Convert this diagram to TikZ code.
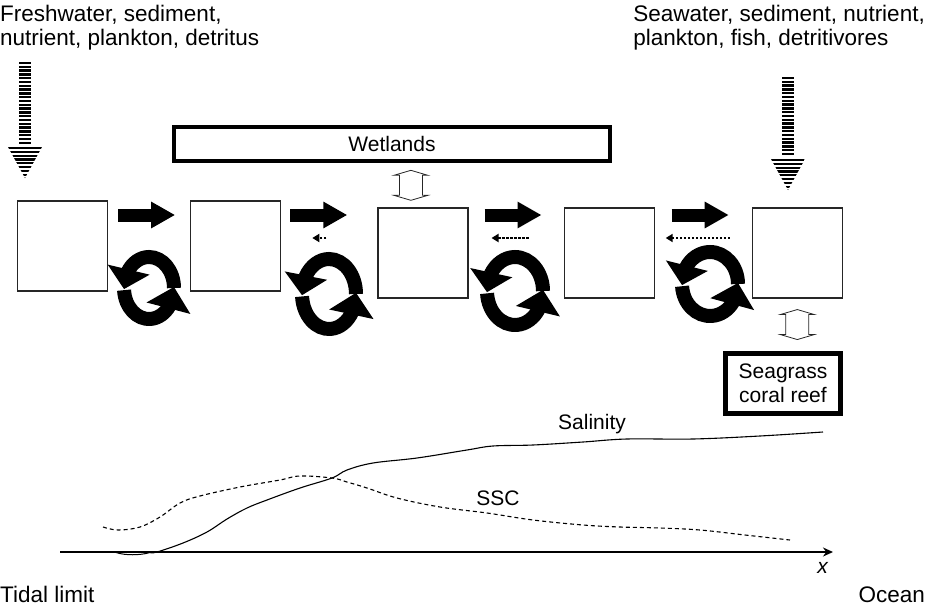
\documentclass[tikz,border=0pt]{standalone}
\usepackage{fontspec}
\setmainfont{Liberation Sans}
\usetikzlibrary{arrows.meta,bending,positioning,calc}
\tikzstyle{cell}=[rectangle,draw=black!85,line width=1.2pt,minimum width=90pt,minimum height=90pt,inner sep=0pt]
\tikzstyle{bigbox}=[rectangle,draw=black,line width=4.5pt,inner sep=0pt,align=center]
\tikzstyle{flow}=[line width=13pt,-{Triangle[width=25pt,length=24pt]}]
\tikzstyle{backflow}=[line width=2.2pt,dash pattern=on 2.2pt off 1.8pt,-{Triangle[width=8pt,length=7pt]}]
\tikzstyle{turn}=[line width=14pt]
\tikzstyle{hollow}=[draw=black!85,line width=0.8pt,fill=white]
\tikzstyle{bar}=[line width=2.3pt]
\tikzstyle{head}=[font=\fontsize{22.5}{24}\selectfont]
% striped input arrow: x, shaft top, head top, number of shaft bars
\newcommand{\stripes}[4]{%
  \foreach \i in {0,...,#4} \draw[bar] (#1-6,{#2+3.8*\i}) -- (#1+6,{#2+3.8*\i});
  \begin{scope}
    \clip (#1-17,#3) -- (#1+17,#3) -- (#1,#3+31) -- cycle;
    \foreach \i in {0,...,8} \draw[bar] (#1-17,{#3+1.1+3.8*\i}) -- (#1+17,{#3+1.1+3.8*\i});
  \end{scope}}
% open two-way arrow round a centre point
\newcommand{\twoway}[1]{%
  \draw[hollow] ($(#1)+(0,-15)$) -- ++(17,5) -- ++(-5.5,0) -- ++(0,20) -- ++(5.5,0)
    -- ++(-17,5) -- ++(-17,-5) -- ++(5.5,0) -- ++(0,-20) -- ++(-5.5,0) -- cycle;}

\begin{document}
\begin{tikzpicture}[x=1pt,y=-1pt,font=\fontsize{21}{24}\selectfont]
            \useasboundingbox (0,0) rectangle (925,607);

            % sources
            \node[head,anchor=north west,align=left,inner sep=0pt] (fresh) at (0,5) {Freshwater, sediment,\\nutrient, plankton, detritus};
            \node[head,anchor=north east,align=left,inner sep=0pt] (salt) at (925,5) {Seawater, sediment, nutrient,\\plankton, fish, detritivores};
            \stripes{25}{63}{147}{21}
            \stripes{788}{78}{159}{20}

            % estuary cells
            \node[cell] (b1) at (62.5,246) {};
            \node[cell,right=82pt of b1] (b2) {};
            \node[cell,right=96pt of b2,yshift=-7pt] (b3) {};
            \node[cell,right=95pt of b3] (b4) {};
            \node[cell,right=97pt of b4] (b5) {};

            \node[bigbox,minimum width=436pt,minimum height=34pt] (wet) at (392,144) {Wetlands};
            \node[bigbox,line width=5pt,minimum width=115pt,minimum height=60pt] (sea) at (783,383) {Seagrass\\coral reef};

            \coordinate (row) at (0,215);
            \coordinate (drow) at (0,238);

            \draw[flow] ([xshift=10pt]b1.east |- row) -- ([xshift=-15pt]b2.west |- row);
            \draw[flow] ([xshift=9pt]b2.east |- row) -- ([xshift=-30pt]b3.west |- row);
            \draw[flow] ([xshift=16pt]b3.east |- row) -- ([xshift=-22pt]b4.west |- row);
            \draw[flow] ([xshift=17pt]b4.east |- row) -- ([xshift=-23pt]b5.west |- row);

            \draw[backflow] ([xshift=-51pt]b3.west |- drow) -- ([xshift=31pt]b2.east |- drow);
            \draw[backflow] ([xshift=-35pt]b4.west |- drow) -- ([xshift=23pt]b3.east |- drow);
            \draw[backflow] ([xshift=-22pt]b5.west |- drow) -- ([xshift=11pt]b4.east |- drow);

            % mixing between cells
            \foreach \cx/\cy/\rx/\ry in {149/288/25/31, 329/294/27/35, 515/291/28/34, 710/284/28/32} {
              \draw[turn,-{Triangle[width=42pt,length=20pt]}] (\cx+\rx,\cy)
                arc[start angle=0,end angle=-182,x radius=\rx,y radius=\ry];
              \draw[turn,-{Triangle[width=44pt,length=22pt]}] ({\cx+\rx*cos(176)},{\cy+\ry*sin(176)})
                arc[start angle=176,end angle=-2,x radius=\rx,y radius=\ry];
            }

            \coordinate (up1) at ($(b3.north)!0.5!(b3.north |- wet.south)$);
            \twoway{[xshift=-12pt]up1}
            \coordinate (up2) at ($(b5.south)!0.5!(b5.south |- sea.north)$);
            \twoway{up2}

            % profiles along the estuary
            \coordinate (ax0) at (60,552);
            \coordinate (ax1) at (833,552);
            \draw[line width=2.5pt,-{Stealth[width=9pt,length=10pt]}] (ax0) -- (ax1);
            \node[anchor=base] (xlab) at (823,573) {\textit{x}};
            \node[head,anchor=base west,inner sep=0pt] (tidal) at (0,602) {Tidal limit};
            \node[head,anchor=base east,inner sep=0pt] (ocean) at (925,602) {Ocean};

            \draw[line width=1pt] (116,552.5) .. controls (125,555.5) and (140,555.5) .. (150,552.5);
            \draw[line width=1.1pt] plot[smooth,tension=0.6] coordinates {(150,552.5) (157,552) (183,543) (207,532) (227,519) (247,508) (267,500) (300,488) (332,478) (347,470) (373,463) (417,458) (467,450) (493,446) (533,445) (583,442) (627,439) (693,439) (760,436) (823,432)};
            \draw[line width=1.1pt,dash pattern=on 4pt off 3pt] plot[smooth,tension=0.6] coordinates {(103,527) (118,530) (140,527) (160,517) (180,503) (200,496) (240,487) (280,480) (300,476) (332,478) (347,482) (367,488) (397,498) (440,507) (487,513) (533,520) (583,525) (620,527) (660,528) (700,530) (745,535) (790,540)};
            \node (sal) at (592,424) {Salinity};
            \node (ssc) at (498,498) {SSC};

        \end{tikzpicture}
\end{document}
